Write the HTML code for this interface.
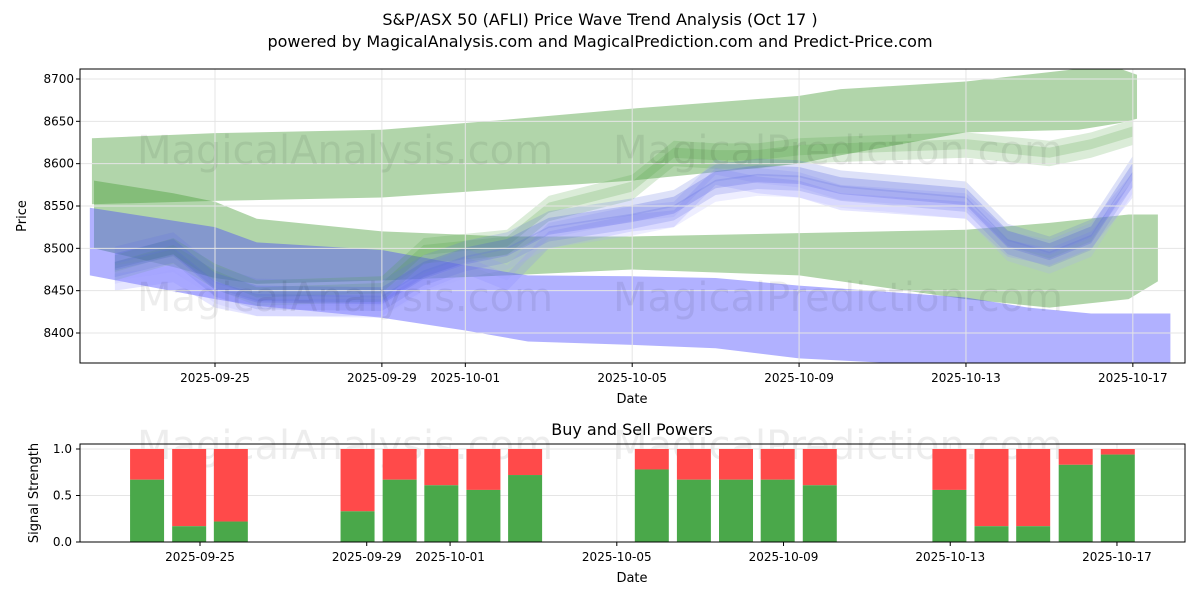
<!DOCTYPE html>
<html><head><meta charset="utf-8"><style>
body{margin:0;background:#fff;font-family:"Liberation Sans","DejaVu Sans",sans-serif}
svg text{font-family:"DejaVu Sans","Liberation Sans",sans-serif}
</style></head><body>
<svg id="c" width="1200" height="600" xmlns="http://www.w3.org/2000/svg">
<text x="600" y="25" text-anchor="middle" font-size="16">S&amp;P/ASX 50 (AFLI) Price Wave Trend Analysis (Oct 17 )</text>
<text x="600" y="47" text-anchor="middle" font-size="16">powered by MagicalAnalysis.com and MagicalPrediction.com and Predict-Price.com</text>
<g id="topPanel"></g>
<g id="botPanel"></g>
</svg>
<script>
const tickDates=["2025-09-25","2025-09-29","2025-10-01","2025-10-05","2025-10-09","2025-10-13","2025-10-17"];
const tickDays=[0,4,6,10,14,18,22];
const priceTicks=[8400,8450,8500,8550,8600,8650,8700];
// green upper band
const gUDays=[-2.95,0,4,7,10,14,15,18,20.7,21.7,22.1];
const gUHi=[8630,8636,8640,8652,8665,8680,8688,8697,8712,8712,8705];
const gULo=[8552,8556,8560,8570,8580,8600,8610,8637,8640,8648,8653];
// green lower band
const gLDays=[-2.9,-1,0,1,4,7,10,14,18,20,21.9,22.6];
const gLHi=[8580,8565,8555,8535,8520,8514,8514,8518,8522,8530,8540,8540];
const gLLo=[8500,8478,8465,8458,8462,8468,8475,8468,8440,8430,8440,8461];
// blue lower band
const bLDays=[-3,0,1,4,6,7.5,10,12,14,18,19.5,21,22.9];
const bLHi=[8548,8525,8507,8498,8480,8468,8467,8465,8456,8442,8430,8423,8423];
const bLLo=[8468,8440,8432,8418,8403,8390,8386,8382,8370,8360,8355,8355,8355];
// wave series
const waveDays=[-2.4,-1,0,1,4,5,6,7,8,10,11,12,13,14,15,18,19,20,21,22];
const waveMain=[8488,8505,8465,8450,8448,8478,8495,8505,8530,8545,8555,8585,8592,8590,8578,8565,8515,8500,8520,8595];
const waveGreen=[8480,8500,8470,8450,8455,8500,8505,8510,8550,8575,8615,8612,8612,8618,8620,8625,8620,8615,8625,8640];
const waveLight=[8470,8480,8450,8440,8440,8470,8490,8470,8520,8540,8545,8595,8585,8580,8565,8555,8510,8500,8520,8580];
const barDays=[-1.27,-0.26,0.74,3.78,4.79,5.79,6.8,7.8,10.84,11.85,12.86,13.86,14.87,17.98,18.99,19.99,21.01,22.02];
const buyVals=[0.67,0.17,0.22,0.33,0.67,0.61,0.56,0.72,0.78,0.67,0.67,0.67,0.61,0.56,0.17,0.17,0.83,0.94];
const sigTicks=[0,0.5,1];

const NS="http://www.w3.org/2000/svg";
const X=d=>215+d*41.72;
const XB=d=>200+d*41.68;
const Y=p=>333-(p-8400)*0.8467;
const YB=v=>542-v*93;
function mk(tag,at,par){const e=document.createElementNS(NS,tag);for(const k in at)e.setAttribute(k,at[k]);par.appendChild(e);return e;}
const topG=document.getElementById('topPanel'),botG=document.getElementById('botPanel');

const clip=mk('clipPath',{id:'cp'},topG);mk('rect',{x:80,y:69,width:1105,height:294},clip);
const plot=mk('g',{'clip-path':'url(#cp)'},topG);

priceTicks.forEach(p=>{mk('line',{x1:80,x2:1185,y1:Y(p),y2:Y(p),stroke:'#e5e5e5'},topG);
 const t=mk('text',{x:74,y:Y(p)+4,'text-anchor':'end','font-size':12},topG);t.textContent=p;
 
 });
tickDays.forEach((d,i)=>{mk('line',{x1:X(d),x2:X(d),y1:69,y2:363,stroke:'#e5e5e5'},topG);
 mk('line',{x1:X(d),x2:X(d),y1:363,y2:367,stroke:'#000'},topG);
 const t=mk('text',{x:X(d),y:382,'text-anchor':'middle','font-size':12},topG);t.textContent=tickDates[i];
 
 
 mk('line',{x1:XB(d),x2:XB(d),y1:444,y2:542,stroke:'#e5e5e5'},botG);
 mk('line',{x1:XB(d),x2:XB(d),y1:542,y2:546,stroke:'#000'},botG);
 const t2=mk('text',{x:XB(d),y:561,'text-anchor':'middle','font-size':12},botG);t2.textContent=tickDates[i];
 
 });
function band(days,hi,lo,col,op,name){
 let pts=days.map((d,i)=>X(d)+','+Y(hi[i]));
 pts=pts.concat(days.map((d,i)=>X(d)+','+Y(lo[i])).reverse());
 const p=mk('polygon',{points:pts.join(' '),fill:col,'fill-opacity':op},plot);
 
 
}
band(gUDays,gUHi,gULo,'#4a9e3a',0.43,'green-upper-band');
band(gLDays,gLHi,gLLo,'#4a9e3a',0.43,'green-lower-band');
band(bLDays,bLHi,bLLo,'#4444ff',0.42,'blue-lower-band');
function wave(arr,lo,hi,col,op){
 let pts=waveDays.map((d,i)=>X(d)+','+Y(arr[i]+hi));
 pts=pts.concat(waveDays.map((d,i)=>X(d)+','+Y(arr[i]+lo)).reverse());
 const p=mk('polygon',{points:pts.join(' '),fill:col,'fill-opacity':op},plot);
 
 
}
wave(waveGreen,-18,4,'#4a9e3a',0.2);
wave(waveGreen,-8,12,'#4a9e3a',0.2);
wave(waveLight,-20,0,'#8888ff',0.22);
wave(waveLight,-8,10,'#9999ff',0.2);
wave(waveMain,-22,-4,'#5566dd',0.22);
wave(waveMain,-14,6,'#4455dd',0.25);
wave(waveMain,-6,14,'#6677dd',0.22);
wave(waveMain,-30,-12,'#aaaaff',0.2);

[[345,150,'MagicalAnalysis.com'],[838,150,'MagicalPrediction.com'],[345,297,'MagicalAnalysis.com'],[838,297,'MagicalPrediction.com'],[345,445,'MagicalAnalysis.com'],[838,445,'MagicalPrediction.com']].forEach(w=>{
 const t=mk('text',{x:w[0],y:w[1]+14,'text-anchor':'middle','font-size':40,fill:'#000','fill-opacity':0.07},topG);t.textContent=w[2];
 
 
});
mk('rect',{x:80,y:69,width:1105,height:294,fill:'none',stroke:'#000'},topG);
priceTicks.forEach(p=>mk('line',{x1:76,x2:80,y1:Y(p),y2:Y(p),stroke:'#000'},topG));
let t=mk('text',{x:632,y:403,'text-anchor':'middle','font-size':13},topG);t.textContent='Date';

t=mk('text',{x:26,y:216,'text-anchor':'middle','font-size':13,transform:'rotate(-90 26 216)'},topG);t.textContent='Price';


t=mk('text',{x:632,y:435,'text-anchor':'middle','font-size':16},botG);t.textContent='Buy and Sell Powers';

sigTicks.forEach(v=>{mk('line',{x1:80,x2:1185,y1:YB(v),y2:YB(v),stroke:'#e5e5e5'},botG);
 mk('line',{x1:76,x2:80,y1:YB(v),y2:YB(v),stroke:'#000'},botG);
 const tt=mk('text',{x:72,y:YB(v)+4,'text-anchor':'end','font-size':12},botG);tt.textContent=v.toFixed(1);
 });
barDays.forEach((d,i)=>{
 const b=buyVals[i],w=34;
 const s=mk('rect',{x:XB(d)-w/2,y:YB(1),width:w,height:YB(b)-YB(1),fill:'#ff4a4a'},botG);
 
 const g=mk('rect',{x:XB(d)-w/2,y:YB(b),width:w,height:YB(0)-YB(b),fill:'#4aa84a'},botG);
 
});
mk('rect',{x:80,y:444,width:1105,height:98,fill:'none',stroke:'#000'},botG);
t=mk('text',{x:632,y:582,'text-anchor':'middle','font-size':13},botG);t.textContent='Date';

t=mk('text',{x:38,y:493,'text-anchor':'middle','font-size':13,transform:'rotate(-90 38 493)'},botG);t.textContent='Signal Strength';

</script>
</body></html>
